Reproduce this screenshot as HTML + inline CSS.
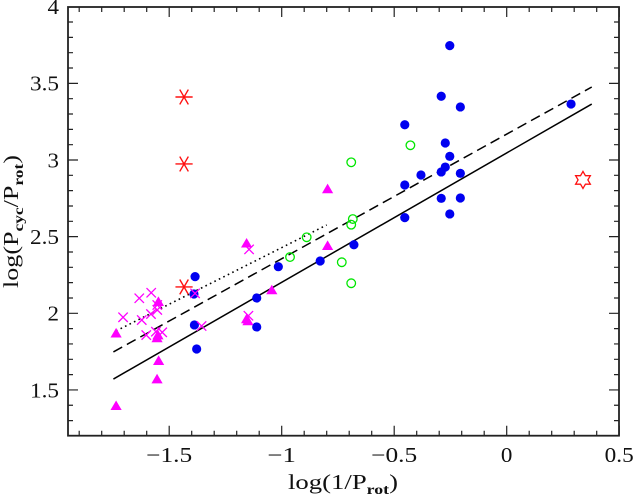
<!DOCTYPE html>
<html>
<head>
<meta charset="utf-8">
<style>
html,body{margin:0;padding:0;background:#fff;width:634px;height:497px;overflow:hidden}
svg{display:block}
text{font-family:"Liberation Serif",serif;fill:#111}
</style>
</head>
<body>
<svg id="chart" width="634" height="497" viewBox="0 0 634 497" xmlns="http://www.w3.org/2000/svg">
<g id="marks"></g>
<g id="axes"></g>
<text x="288" y="489" font-size="21" textLength="110" lengthAdjust="spacingAndGlyphs">log(1/P<tspan font-size="14" font-weight="bold" dy="5">rot</tspan><tspan dy="-5">)</tspan></text>
<text transform="translate(18,288) rotate(-90)" x="0" y="0" font-size="21" textLength="133" lengthAdjust="spacingAndGlyphs">log(P<tspan font-size="14" font-weight="bold" dy="5">cyc</tspan><tspan dy="-5">/P</tspan><tspan font-size="14" font-weight="bold" dy="5">rot</tspan><tspan dy="-5">)</tspan></text>
</svg>
<script>
const xTickLabels = [-1.5, -1, -0.5, 0, 0.5];
const yTickLabels = [1.5, 2, 2.5, 3, 3.5, 4];
const blueX = [-0.253,-0.291,-0.206,-0.453,-0.273,-0.253,-0.273,-0.291,-0.381,-0.206,-0.453,-0.291,-0.206,-0.453,-0.253,0.286,-0.679,-0.829,-1.015,-1.111,-1.385,-1.390,-1.388,-1.378,-1.111];
const blueY = [3.746,3.416,3.346,3.230,3.111,3.024,2.954,2.922,2.902,2.913,2.837,2.750,2.752,2.624,2.648,3.365,2.447,2.341,2.304,2.100,2.239,2.126,1.924,1.767,1.911];
const triangleX = [-1.736,-1.736,-1.548,-1.550,-1.554,-1.547,-1.554,-1.156,-1.150,-1.044,-1.156,-0.796,-0.796];
const triangleY = [1.870,1.397,2.076,1.858,1.839,1.691,1.571,1.963,1.950,2.152,2.457,2.811,2.441];
const crossX = [-1.633,-1.580,-1.705,-1.622,-1.581,-1.553,-1.602,-1.531,-1.553,-1.559,-1.385,-1.356,-1.148,-1.145];
const crossY = [2.098,2.134,1.974,1.956,1.995,2.022,1.858,1.876,2.054,1.880,2.130,1.917,1.984,2.417];
const greenX = [-0.691,-0.684,-0.691,-0.889,-0.963,-0.733,-0.691,-0.428];
const greenY = [2.985,2.615,2.578,2.496,2.367,2.333,2.196,3.096];
const asteriskX = [-1.434,-1.434,-1.434];
const asteriskY = [3.411,2.974,2.172];
const starX = [0.339];
const starY = [2.870];
const solidLineX = [-1.748,0.378];
const solidLineY = [1.571,3.365];
const dashedLineX = [-1.748,0.378];
const dashedLineY = [1.748,3.476];
const dottedLineX = [-1.736,-0.8];
const dottedLineY = [1.885,2.576];

const NS = 'http://www.w3.org/2000/svg';
const sx = v => 506.7 + v * 225;
const sy = v => 313.3 - (v - 2) * 153.3;
const marks = document.getElementById('marks');
const axes = document.getElementById('axes');
const L = 68, R = 619, T = 7, B = 435.7;

function mk(tag, parent, props) {
  const el = document.createElementNS(NS, tag);
  for (const k in props) el.setAttribute(k, props[k]);
  parent.appendChild(el);
  return el;
}

function fitLine(xs, ys, name, dash, width) {
  const el = mk('line', marks, {x1: sx(xs[0]), y1: sy(ys[0]), x2: sx(xs[1]), y2: sy(ys[1]), stroke: '#000', 'stroke-width': width, 'stroke-dasharray': dash});
  
  
}
fitLine(solidLineX, solidLineY, 'solid-fit-line', 'none', 1.5);
fitLine(dashedLineX, dashedLineY, 'dashed-fit-line', '10 5.4', 1.5);
fitLine(dottedLineX, dottedLineY, 'dotted-fit-line', '1.6 3.4', 1.6);

triangleX.forEach((v, i) => {
  const x = sx(v), y = sy(triangleY[i]);
  const el = mk('polygon', marks, {points: `${x-5.6},${y+4.3} ${x+5.6},${y+4.3} ${x},${y-5.3}`, fill: '#ff00ff'});
  
  
});
blueX.forEach((v, i) => {
  const el = mk('circle', marks, {cx: sx(v), cy: sy(blueY[i]), r: 4.6, fill: '#0000f0'});
  
  
});
crossX.forEach((v, i) => {
  const x = sx(v), y = sy(crossY[i]);
  const el = mk('path', marks, {d: `M${x-4.7} ${y-4.7}L${x+4.7} ${y+4.7}M${x-4.7} ${y+4.7}L${x+4.7} ${y-4.7}`, stroke: '#ff00ff', 'stroke-width': 1.3, fill: 'none'});
  
  
});
greenX.forEach((v, i) => {
  const el = mk('circle', marks, {cx: sx(v), cy: sy(greenY[i]), r: 4.3, fill: 'none', stroke: '#00e600', 'stroke-width': 1.3});
  
  
});
asteriskX.forEach((v, i) => {
  const x = sx(v), y = sy(asteriskY[i]);
  const a = 8.6, dx = a * 0.5, dy = a * 0.866;
  const el = mk('path', marks, {d: `M${x-a} ${y}L${x+a} ${y}M${x-dx} ${y-dy}L${x+dx} ${y+dy}M${x-dx} ${y+dy}L${x+dx} ${y-dy}`, stroke: '#ff1010', 'stroke-width': 1.4, fill: 'none'});
  
  
});
starX.forEach((v, i) => {
  const x = sx(v), y = sy(starY[i]);
  const pts = [];
  for (let k = 0; k < 12; k++) {
    const r = k % 2 ? 4.9 : 8.5, t = (k * 30 - 90) * Math.PI / 180;
    pts.push((x + r * Math.cos(t)) + ',' + (y + r * Math.sin(t)));
  }
  const el = mk('polygon', marks, {points: pts.join(' '), fill: 'none', stroke: '#ff1010', 'stroke-width': 1.3});
  
  
});

const frame = mk('rect', axes, {x: L, y: T, width: R - L, height: B - T, fill: 'none', stroke: '#222', 'stroke-width': 1.8});



let tickPath = '';
for (let k = -19; k <= 5; k++) {
  const x = sx(k / 10), len = k % 5 === 0 ? 10 : 5;
  tickPath += `M${x} ${B}V${B-len}M${x} ${T}V${T+len}`;
}
for (let k = 13; k <= 39; k++) {
  const y = sy(k / 10), len = k % 5 === 0 ? 10 : 5;
  tickPath += `M${L} ${y}H${L+len}M${R} ${y}H${R-len}`;
}
const ticks = mk('path', axes, {d: tickPath, stroke: '#222', 'stroke-width': 1.2, fill: 'none'});



function labelWidth(v) {
  const s = String(Math.abs(v));
  return (v < 0 ? 17 : 0) + (s.length > 1 ? 29 : 11.5);
}
xTickLabels.forEach(v => {
  const t = mk('text', axes, {x: sx(v), y: 462, 'font-size': 21, 'text-anchor': 'middle', textLength: labelWidth(v), lengthAdjust: 'spacingAndGlyphs'});
  t.textContent = String(v).replace('-', '\u2212');
  
  
});
yTickLabels.forEach(v => {
  const t = mk('text', axes, {x: 59, y: sy(v) + 7.3, 'font-size': 21, 'text-anchor': 'end', textLength: labelWidth(v), lengthAdjust: 'spacingAndGlyphs'});
  t.textContent = String(v);
  
  
});
</script>
</body>
</html>
